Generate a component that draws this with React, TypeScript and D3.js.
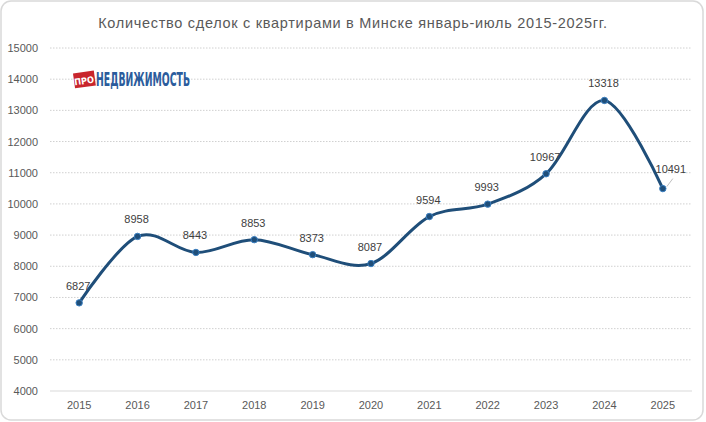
import * as d3 from "d3";
import { useEffect, useRef } from "react";

const years = ["2015", "2016", "2017", "2018", "2019", "2020", "2021", "2022", "2023", "2024", "2025"];
const deals = [6827, 8958, 8443, 8853, 8373, 8087, 9594, 9993, 10967, 13318, 10491];
const yTicks = [4000, 5000, 6000, 7000, 8000, 9000, 10000, 11000, 12000, 13000, 14000, 15000];

const title = "Количество сделок с квартирами в Минске январь-июль 2015-2025гг.";

const App: React.FC = () => {
  const ref = useRef<SVGSVGElement>(null);

  const width = 706;
  const height = 422;
  const margin = { top: 48, right: 14, bottom: 31, left: 50 };

  useEffect(() => {
    if (!ref.current) return;
    const svg = d3.select(ref.current);
    svg.selectAll("*").remove();

    const font = "'Liberation Sans', Arial, sans-serif";
    const textColor = "#595959";

    // chart frame
    svg
      .append("rect")
      .attr("x", 1)
      .attr("y", 1)
      .attr("width", width - 4)
      .attr("height", height - 3)
      .attr("rx", 10)
      .attr("fill", "#fff")
      .attr("stroke", "#d9d9d9")
      .attr("stroke-width", 1.5);

    const x = d3
      .scaleBand()
      .domain(years)
      .range([margin.left, width - margin.right]);

    const y = d3
      .scaleLinear()
      .domain([4000, 15000])
      .range([height - margin.bottom, margin.top]);

    // gridlines
    svg
      .append("g")
      .selectAll("line")
      .data(yTicks.filter((t) => t > 4000))
      .enter()
      .append("line")
      .attr("x1", margin.left)
      .attr("x2", width - margin.right)
      .attr("y1", (d) => y(d))
      .attr("y2", (d) => y(d))
      .attr("stroke", "#d0d0d0")
      .attr("stroke-width", 1)
      .attr("stroke-dasharray", "1.5,1.5");

    // x axis line
    svg
      .append("line")
      .attr("x1", margin.left)
      .attr("x2", width - margin.right)
      .attr("y1", y(4000))
      .attr("y2", y(4000))
      .attr("stroke", "#d9d9d9")
      .attr("stroke-width", 1);

    // y tick labels
    svg
      .append("g")
      .selectAll("text")
      .data(yTicks)
      .enter()
      .append("text")
      .attr("x", 38)
      .attr("y", (d) => y(d) + 4)
      .attr("text-anchor", "end")
      .style("font-family", font)
      .style("font-size", "11px")
      .style("fill", textColor)
      .text((d) => d);

    // x tick labels
    svg
      .append("g")
      .selectAll("text")
      .data(years)
      .enter()
      .append("text")
      .attr("x", (d) => (x(d) ?? 0) + x.bandwidth() / 2)
      .attr("y", 409)
      .attr("text-anchor", "middle")
      .style("font-family", font)
      .style("font-size", "11px")
      .style("fill", textColor)
      .text((d) => d);

    // title
    svg
      .append("text")
      .attr("x", 353)
      .attr("y", 28)
      .attr("text-anchor", "middle")
      .style("font-family", font)
      .style("font-size", "14.5px")
      .style("letter-spacing", "0.7px")
      .style("fill", textColor)
      .text(title);

    // logo
    const logo = svg.append("g");
    logo
      .append("rect")
      .attr("x", 74)
      .attr("y", 72)
      .attr("width", 21)
      .attr("height", 15)
      .attr("fill", "#c8252c")
      .attr("transform", "rotate(-8 84 80)");
    logo
      .append("text")
      .attr("x", 84)
      .attr("y", 84)
      .attr("text-anchor", "middle")
      .attr("transform", "rotate(-8 84 80)")
      .style("font-family", "'DejaVu Sans Condensed', sans-serif")
      .style("font-weight", "bold")
      .style("font-size", "9px")
      .style("fill", "#fff")
      .text("ПРО");
    logo
      .append("text")
      .attr("x", 96)
      .attr("y", 86)
      .attr("textLength", 94)
      .attr("lengthAdjust", "spacingAndGlyphs")
      .style("font-family", "'DejaVu Sans Condensed', sans-serif")
      .style("font-weight", "bold")
      .style("font-size", "19px")
      .style("fill", "#2b5c9c")
      .text("НЕДВИЖИМОСТЬ");

    const cx = (i: number) => (x(years[i]) ?? 0) + x.bandwidth() / 2;

    // smoothed line
    const line = d3
      .line<number>()
      .x((_d, i) => cx(i))
      .y((d) => y(d))
      .curve(d3.curveCatmullRom.alpha(0));

    svg
      .append("path")
      .datum(deals)
      .attr("d", line)
      .attr("fill", "none")
      .attr("stroke", "#1f4e79")
      .attr("stroke-width", 3)
      .attr("stroke-linecap", "round");

    // markers
    svg
      .append("g")
      .selectAll("circle")
      .data(deals)
      .enter()
      .append("circle")
      .attr("cx", (_d, i) => cx(i))
      .attr("cy", (d) => y(d))
      .attr("r", 3.2)
      .attr("fill", "#1f4e79")
      .attr("stroke", "#3a7fc1")
      .attr("stroke-width", 1);

    // leader line for the last label
    const last = deals.length - 1;
    svg
      .append("line")
      .attr("x1", cx(last) + 4)
      .attr("y1", y(deals[last]) - 2)
      .attr("x2", cx(last) + 10)
      .attr("y2", y(deals[last]) - 10)
      .attr("stroke", "#bfbfbf")
      .attr("stroke-width", 1);

    // data labels
    svg
      .append("g")
      .selectAll("text")
      .data(deals)
      .enter()
      .append("text")
      .attr("x", (_d, i) => cx(i) + (i === last ? 8 : -1))
      .attr("y", (d, i) => y(d) - (i === last ? 16 : 13))
      .attr("text-anchor", "middle")
      .style("font-family", font)
      .style("font-size", "11px")
      .style("fill", "#404040")
      .text((d) => d);
  }, []);

  return (
    <svg
      ref={ref}
      width={width}
      height={height}
      style={{ position: "absolute", left: 0, top: 0, background: "#fff" }}
    ></svg>
  );
};

export default App;
